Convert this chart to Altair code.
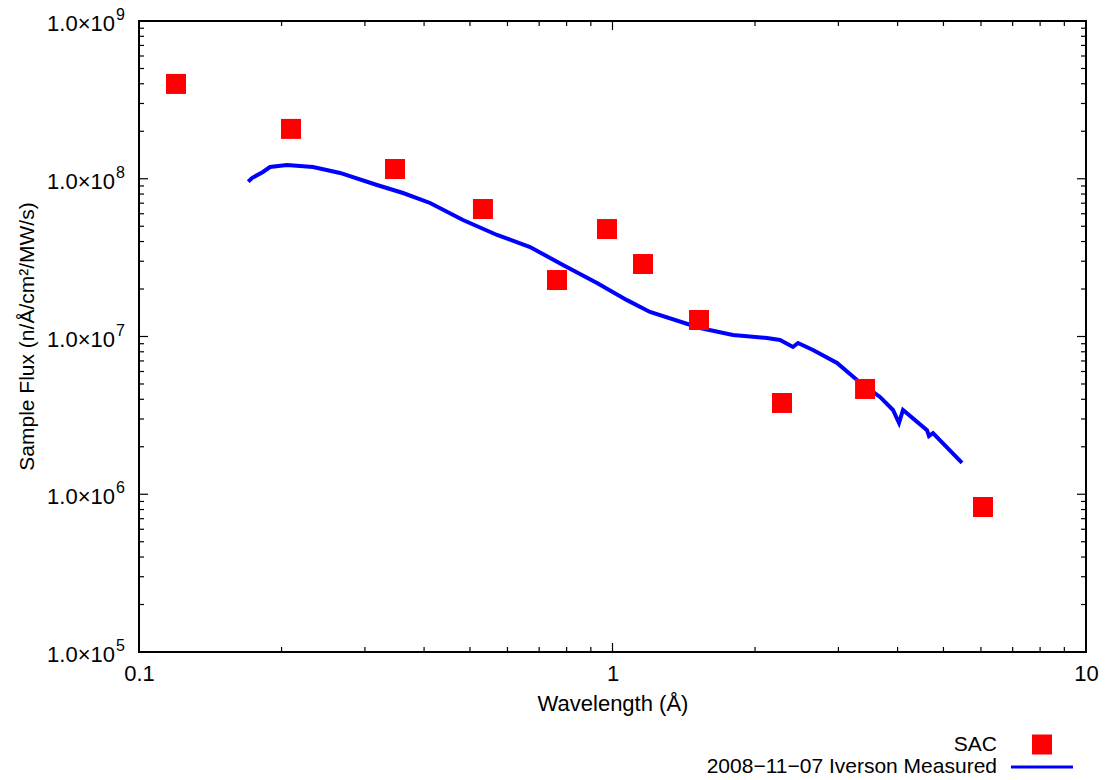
import altair as alt
import pandas as pd

# ---- data ----
sac_wavelength = [0.1197, 0.2094, 0.3473, 0.5326, 0.7634, 0.9736, 1.160, 1.523, 2.280, 3.415, 6.06]
sac_flux = [3.99e8, 2.07e8, 1.153e8, 6.43e7, 2.28e7, 4.80e7, 2.88e7, 1.272e7, 3.79e6, 4.65e6, 8.30e5]

meas_wavelength = [0.1701, 0.1732, 0.1827, 0.1891, 0.2054, 0.2188, 0.2331, 0.2658, 0.3181, 0.3611,
                   0.4118, 0.4833, 0.5704, 0.6697, 0.786, 0.9275, 1.073, 1.200, 1.530, 1.797,
                   2.120, 2.258, 2.405, 2.465, 2.651, 2.980, 3.284, 3.672, 3.912, 4.028,
                   4.107, 4.615, 4.660, 4.752, 5.472]
meas_flux = [9.58e7, 1.011e8, 1.104e8, 1.187e8, 1.223e8, 1.204e8, 1.187e8, 1.088e8, 9.13e7, 8.12e7,
             7.02e7, 5.48e7, 4.40e7, 3.69e7, 2.84e7, 2.18e7, 1.70e7, 1.43e7, 1.132e7, 1.022e7,
             9.78e6, 9.50e6, 8.58e6, 9.09e6, 8.21e6, 6.79e6, 5.30e6, 4.14e6, 3.42e6, 2.83e6,
             3.42e6, 2.55e6, 2.34e6, 2.44e6, 1.58e6]

x_major = [0.1, 1, 10]
x_minor = [0.2, 0.3, 0.4, 0.5, 0.6, 0.7, 0.8, 0.9, 2, 3, 4, 5, 6, 7, 8, 9]
y_major = [1e5, 1e6, 1e7, 1e8, 1e9]
y_minor = [m * 10 ** e for e in range(5, 9) for m in range(2, 10)]
y_label_base = ["1.0×10"] * 5
y_label_exp = ["5", "6", "7", "8", "9"]

legend_labels = ["SAC", "2008−11−07 Iverson Measured"]
x_title = "Wavelength (Å)"
y_title = "Sample Flux (n/Å/cm²/MW/s)"

FONT = "Liberation Sans"
FS = 22
W, H = 947, 631

xscale = alt.Scale(type="log", domain=[0.1, 10], nice=False)
yscale = alt.Scale(type="log", domain=[1e5, 1e9], nice=False)

meas_df = pd.DataFrame({"wl": meas_wavelength, "flux": meas_flux})
sac_df = pd.DataFrame({"wl": sac_wavelength, "flux": sac_flux})

line = alt.Chart(meas_df).mark_line(color="#0000ff", strokeWidth=4).encode(
    x=alt.X("wl:Q", scale=xscale, title=x_title,
            axis=alt.Axis(values=x_major, format="~g", ticks=False, domain=False, grid=False,
                          labelFont=FONT, labelFontSize=FS, labelColor="black", labelPadding=11,
                          titleFont=FONT, titleFontSize=FS, titleFontWeight="normal",
                          titleColor="black", titlePadding=9, labelFlush=False)),
    y=alt.Y("flux:Q", scale=yscale, axis=None),
)

points = alt.Chart(sac_df).mark_square(size=400, color="#ff0000", opacity=1).encode(
    x=alt.X("wl:Q", scale=xscale),
    y=alt.Y("flux:Q", scale=yscale),
)

def xticks(vals, length):
    df = pd.DataFrame({"t": vals})
    bottom = alt.Chart(df).mark_rule(color="black", strokeWidth=1.2).encode(
        x=alt.X("t:Q", scale=xscale), y=alt.value(H), y2=alt.value(H - length))
    top = alt.Chart(df).mark_rule(color="black", strokeWidth=1.2).encode(
        x=alt.X("t:Q", scale=xscale), y=alt.value(0), y2=alt.value(length))
    return [bottom, top]

def yticks(vals, length):
    df = pd.DataFrame({"t": vals})
    left = alt.Chart(df).mark_rule(color="black", strokeWidth=1.2).encode(
        y=alt.Y("t:Q", scale=yscale), x=alt.value(0), x2=alt.value(length))
    right = alt.Chart(df).mark_rule(color="black", strokeWidth=1.2).encode(
        y=alt.Y("t:Q", scale=yscale), x=alt.value(W), x2=alt.value(W - length))
    return [left, right]

ticks = xticks(x_major, 9) + xticks(x_minor, 5) + yticks(y_major, 9) + yticks(y_minor, 5)

ylab_df = pd.DataFrame({"v": y_major, "base": y_label_base, "exp": y_label_exp})
ylab_base = alt.Chart(ylab_df).mark_text(align="right", baseline="middle", font=FONT,
                                          fontSize=FS, color="black", dy=3).encode(
    y=alt.Y("v:Q", scale=yscale), x=alt.value(-24), text="base:N")
ylab_exp = alt.Chart(ylab_df).mark_text(align="left", baseline="middle", font=FONT,
                                         fontSize=16, color="black", dy=-6).encode(
    y=alt.Y("v:Q", scale=yscale), x=alt.value(-23), text="exp:N")

ytitle = alt.Chart(pd.DataFrame({"t": [y_title]})).mark_text(
    angle=270, align="center", baseline="middle", font=FONT, fontSize=21, color="black").encode(
    x=alt.value(-111), y=alt.value(H / 2), text="t:N")

LFS = 21
leg_df = pd.DataFrame({"label": legend_labels, "row": [0, 1]})
leg_text1 = alt.Chart(leg_df.iloc[[0]]).mark_text(
    align="right", baseline="middle", font=FONT, fontSize=LFS, color="black").encode(
    x=alt.value(858), y=alt.value(724), text="label:N")
leg_text2 = alt.Chart(leg_df.iloc[[1]]).mark_text(
    align="right", baseline="middle", font=FONT, fontSize=LFS, color="black").encode(
    x=alt.value(858), y=alt.value(746), text="label:N")
leg_square = alt.Chart(leg_df.iloc[[0]]).mark_square(size=400, color="#ff0000", opacity=1).encode(
    x=alt.value(903), y=alt.value(723.5))
leg_line = alt.Chart(leg_df.iloc[[1]]).mark_rule(color="#0000ff", strokeWidth=3).encode(
    x=alt.value(872), x2=alt.value(934), y=alt.value(746))

chart = alt.layer(
    line, points, *ticks, ylab_base, ylab_exp, ytitle,
    leg_text1, leg_text2, leg_square, leg_line
).properties(
    width=W, height=H,
    autosize=alt.AutoSizeParams(type="none"),
    padding={"left": 139, "top": 21, "right": 21, "bottom": 128},
    background="white",
).configure_view(stroke="black", strokeWidth=2)

chart.save("out.html", embed_options={"renderer": "svg", "actions": False})
